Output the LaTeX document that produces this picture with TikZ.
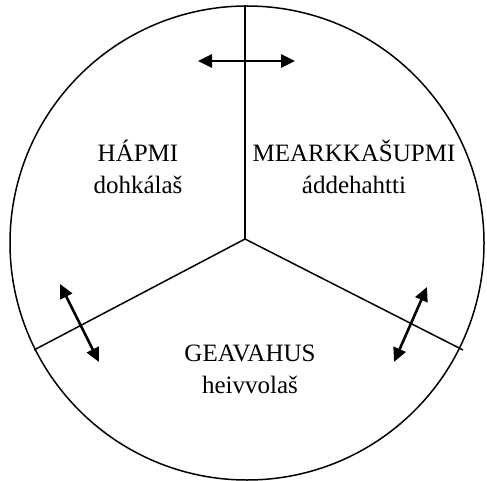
\documentclass[tikz,border=0pt]{standalone}
\usepackage{fontspec}
\setmainfont{Liberation Serif}
\usetikzlibrary{arrows.meta}

\begin{document}
\begin{tikzpicture}[
    x=1pt, y=-1pt,
    rim/.style={line width=1.5pt},
    spoke/.style={line width=1.5pt},
    twoway/.style={{Triangle[length=14pt,width=13pt]}-{Triangle[length=14pt,width=13pt]}, line width=2.6pt},
    area/.style={align=center, inner sep=0pt, font=\fontsize{25}{32}\selectfont}
  ]
    \useasboundingbox (0,0) rectangle (487,481);
    \draw[rim] (247,243) circle[radius=237];
    % spokes
    \coordinate (c) at (245,239);
    \coordinate (top) at (245,5);
    \coordinate (left) at (34,350);
    \coordinate (right) at (463,350);
    \draw[spoke] (c) -- (top);
    \draw[spoke] (c) -- (left);
    \draw[spoke] (c) -- (right);
    % labels
    \node[area] (hapmi) at (138,167) {HÁPMI\\dohkálaš};
    \node[area] (mearkka) at (354,167) {MEARKKAŠUPMI\\áddehahtti};
    \node[area] (geavahus) at (250,369) {GEAVAHUS\\heivvolaš};
    % arrows across the spokes
    \coordinate (a1) at (198,61);
    \coordinate (b1) at (295,61);
    \coordinate (a2) at (60,284);
    \coordinate (b2) at (99,362);
    \coordinate (a3) at (427,287);
    \coordinate (b3) at (394,362);
    \draw[twoway] (a1) -- (b1);
    \draw[twoway] (a2) -- (b2);
    \draw[twoway] (a3) -- (b3);
\end{tikzpicture}
\end{document}
